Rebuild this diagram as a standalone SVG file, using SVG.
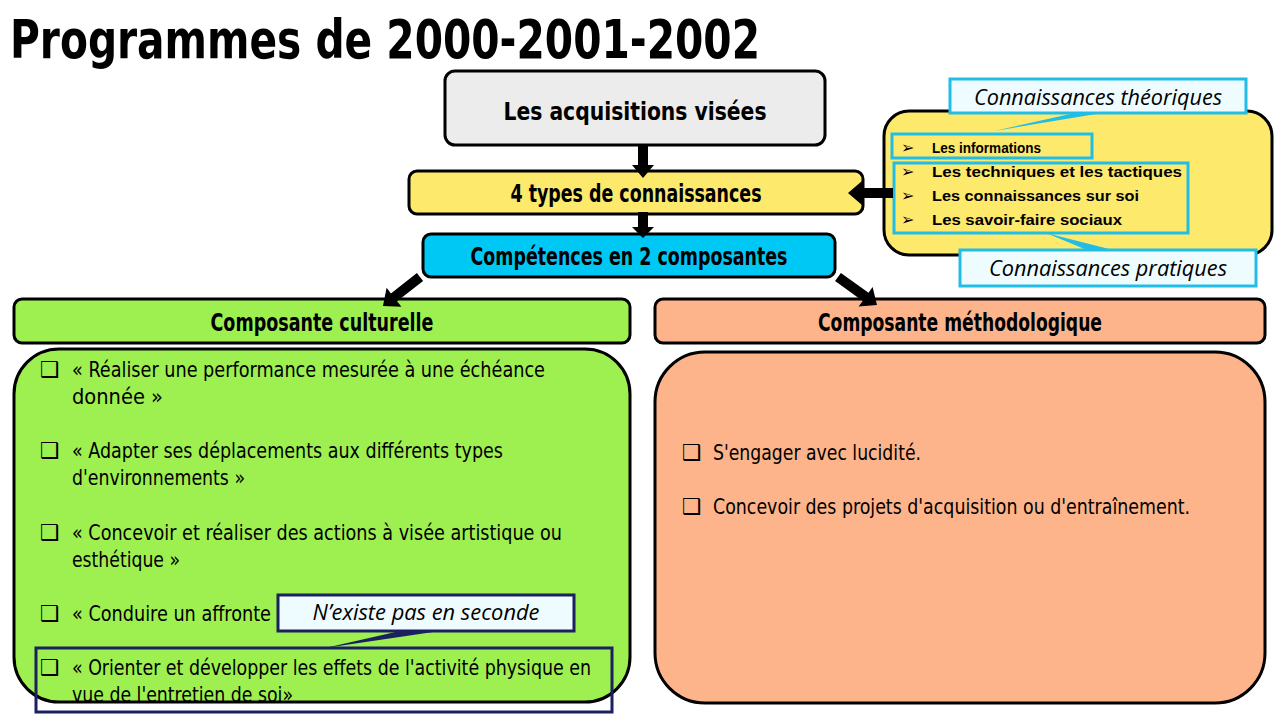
<svg xmlns="http://www.w3.org/2000/svg" width="1280" height="720" viewBox="0 0 1280 720">
<defs>
<style>
.cond{font-family:"DejaVu Sans Condensed","Liberation Sans Narrow","Liberation Sans",sans-serif;}
.box{stroke:#000;stroke-width:3;}
.h{font-weight:bold;font-size:24px;text-anchor:middle;fill:#000;}
.it{font-size:22px;fill:#000;}
.cb{font-family:"DejaVu Sans",sans-serif;font-size:22px;fill:#000;}
.call{fill:#eefcff;stroke:#22bde6;stroke-width:3;}
.callt{font-family:"Open Sans","Liberation Sans",sans-serif;font-style:italic;font-size:21px;text-anchor:middle;fill:#000;}
.frame{fill:none;stroke:#22bde6;stroke-width:3;}
.yi{font-family:"Liberation Sans","Open Sans",sans-serif;font-weight:bold;font-size:15.5px;fill:#000;}
.ya{font-family:"DejaVu Sans",sans-serif;font-size:16px;fill:#000;}
</style>
</defs>
<rect width="1280" height="720" fill="#fff"/>
<text x="10" y="58" class="cond" font-size="54" font-weight="bold" fill="#000" textLength="750" lengthAdjust="spacingAndGlyphs">Programmes de 2000-2001-2002</text>

<g id="acquisitions">
<rect x="445" y="71" width="380" height="74" rx="10" fill="#ececec" class="box"/>
<text x="635" y="120" class="cond h" font-size="28" textLength="263" lengthAdjust="spacingAndGlyphs">Les acquisitions visées</text>
</g>
<g id="types">
<rect x="409" y="171" width="454" height="43" rx="8" fill="#fde96b" class="box"/>
<text x="636" y="202" class="cond h" textLength="251" lengthAdjust="spacingAndGlyphs">4 types de connaissances</text>
</g>
<g id="competences">
<rect x="423" y="234" width="412" height="43" rx="8" fill="#00c8f5" class="box"/>
<text x="629" y="265" class="cond h" textLength="317" lengthAdjust="spacingAndGlyphs">Compétences en 2 composantes</text>
</g>
<g id="culturelle">
<rect x="14" y="299" width="616" height="44" rx="8" fill="#9ef050" class="box"/>
<text x="322" y="331" class="cond h" textLength="223" lengthAdjust="spacingAndGlyphs">Composante culturelle</text>
</g>
<g id="methodo">
<rect x="655" y="299" width="610" height="44" rx="8" fill="#fdb48a" class="box"/>
<text x="960" y="331" class="cond h" textLength="284" lengthAdjust="spacingAndGlyphs">Composante méthodologique</text>
</g>

<g id="culturelle-body">
<rect x="14" y="349" width="616" height="353" rx="45" fill="#9ef050" class="box"/>
<g class="cond it">
<text x="72" y="377" textLength="473" lengthAdjust="spacingAndGlyphs">« Réaliser une performance mesurée à une échéance</text>
<text x="72" y="404" textLength="91" lengthAdjust="spacingAndGlyphs">donnée »</text>
<text x="72" y="458" textLength="431" lengthAdjust="spacingAndGlyphs">« Adapter ses déplacements aux différents types</text>
<text x="72" y="485" textLength="173" lengthAdjust="spacingAndGlyphs">d'environnements »</text>
<text x="72" y="540" textLength="490" lengthAdjust="spacingAndGlyphs">« Concevoir et réaliser des actions à visée artistique ou</text>
<text x="72" y="567" textLength="108" lengthAdjust="spacingAndGlyphs">esthétique »</text>
<text x="72" y="621" textLength="199" lengthAdjust="spacingAndGlyphs">« Conduire un affronte</text>
<text x="72" y="675" textLength="519" lengthAdjust="spacingAndGlyphs">« Orienter et développer les effets de l'activité physique en</text>
<text x="72" y="702" textLength="221" lengthAdjust="spacingAndGlyphs">vue de l'entretien de soi»</text>
</g>
<g class="cb">
<text x="40" y="377">❑</text>
<text x="40" y="458">❑</text>
<text x="40" y="540">❑</text>
<text x="40" y="621">❑</text>
<text x="40" y="675">❑</text>
</g>
</g>

<g id="methodo-body">
<rect x="655" y="352" width="610" height="351" rx="50" fill="#fdb48a" class="box"/>
<g class="cond it">
<text x="713" y="460" textLength="208" lengthAdjust="spacingAndGlyphs">S'engager avec lucidité.</text>
<text x="713" y="514" textLength="477" lengthAdjust="spacingAndGlyphs">Concevoir des projets d'acquisition ou d'entraînement.</text>
</g>
<g class="cb">
<text x="682" y="460">❑</text>
<text x="682" y="514">❑</text>
</g>
</g>

<g id="seconde-note">
<rect x="36" y="648" width="576" height="64" fill="none" stroke="#1a2060" stroke-width="3"/>
<polygon points="400,631 440,631 325,648" fill="#1a2060"/>
<rect x="278" y="595" width="296" height="36" fill="#eefcff" stroke="#1a2060" stroke-width="3"/>
<text x="426" y="620" class="callt" textLength="227" lengthAdjust="spacingAndGlyphs">N’existe pas en seconde</text>
</g>

<g id="connaissances">
<rect x="884" y="111" width="388" height="144" rx="25" fill="#fde96b" class="box"/>
<g class="ya">
<text x="901" y="153">➢</text>
<text x="901" y="177">➢</text>
<text x="901" y="201">➢</text>
<text x="901" y="225">➢</text>
</g>
<g class="yi">
<text x="932" y="153" textLength="109" lengthAdjust="spacingAndGlyphs">Les informations</text>
<text x="932" y="177" textLength="250" lengthAdjust="spacingAndGlyphs">Les techniques et les tactiques</text>
<text x="932" y="201" textLength="207" lengthAdjust="spacingAndGlyphs">Les connaissances sur soi</text>
<text x="932" y="225" textLength="190" lengthAdjust="spacingAndGlyphs">Les savoir-faire sociaux</text>
</g>
<rect x="892" y="134" width="200" height="24" class="frame"/>
<rect x="894" y="163" width="294" height="70" class="frame"/>
</g>

<g id="theoriques">
<polygon points="1075,113 1102,113 994,131" fill="#22bde6"/>
<rect x="950" y="79" width="296" height="34" class="call"/>
<text x="1098" y="105" class="callt" textLength="248" lengthAdjust="spacingAndGlyphs">Connaissances théoriques</text>
</g>
<g id="pratiques">
<polygon points="1087,250 1113,250 1046,233" fill="#22bde6"/>
<rect x="960" y="250" width="296" height="36" class="call"/>
<text x="1108" y="276" class="callt" textLength="238" lengthAdjust="spacingAndGlyphs">Connaissances pratiques</text>
</g>

<g id="connectors" fill="#000">
<polygon points="638,145 648,145 648,165 654,165 643,178 632,165 638,165"/>
<polygon points="638,212 648,212 648,227 654,227 643,238 632,227 638,227"/>
<polygon points="893,188 862,188 862,181 848,193 862,205 862,198 893,198"/>
<path d="M0,-5 L33,-5 L33,-12 L47,0 L33,12 L33,5 L0,5 Z" transform="translate(420,277) rotate(142)"/>
<path d="M0,-5 L34,-5 L34,-12 L48,0 L34,12 L34,5 L0,5 Z" transform="translate(838,277) rotate(35.7)"/>
</g>
</svg>
